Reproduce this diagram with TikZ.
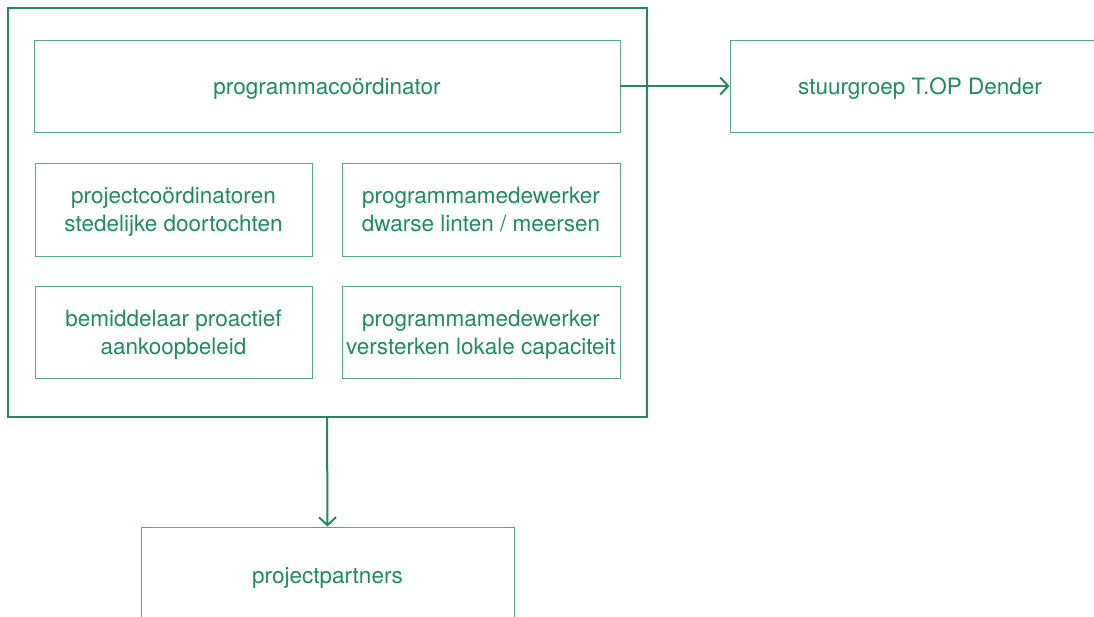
\documentclass[tikz,border=0pt]{standalone}
\usepackage{fontspec}
\setmainfont{TeX Gyre Heros}
\usetikzlibrary{arrows.meta}
\definecolor{topgreen}{HTML}{1F8A62}

\tikzset{
	unit/.style={draw=topgreen!75, line width=0.8pt, text=topgreen, align=center,
		font=\fontsize{22.5}{28}\selectfont, inner sep=0pt, text depth=0pt},
	link/.style={draw=topgreen, line width=2pt, -{Straight Barb[length=8pt,width=17pt,line width=2pt]}}
}

\begin{document}
\begin{tikzpicture}[x=1pt,y=-1pt]
	\useasboundingbox (0,0) rectangle (1094,616);
	\clip (0,0) rectangle (1094,616);
	\node[draw=topgreen, line width=2pt, minimum width=639pt, minimum height=409pt] (team) at (327,212.5) {};
	\node[unit, minimum width=586pt, minimum height=92pt] (coord) at (327,86) {programmacoördinator};
	\node[unit, minimum width=277pt, minimum height=93pt] (doortocht) at (173.5,209.5) {projectcoördinatoren\\stedelijke doortochten};
	\node[unit, minimum width=278pt, minimum height=93pt] (linten) at (481,209.5) {programmamedewerker\\dwarse linten / meersen};
	\node[unit, minimum width=277pt, minimum height=92pt] (aankoop) at (173.5,332) {bemiddelaar proactief\\aankoopbeleid};
	\node[unit, minimum width=278pt, minimum height=92pt] (capaciteit) at (481,332) {programmamedewerker\\versterken lokale capaciteit};
	\node[unit, minimum width=380pt, minimum height=92pt] (stuurgroep) at (920,86) {stuurgroep T.OP Dender};
	\node[unit, minimum width=373pt, minimum height=98pt] (partners) at (327.5,576) {projectpartners};
	\draw[link] (coord.east) -- (stuurgroep.west);
	\draw[link] (team.south) -- (partners.north);
\end{tikzpicture}
\end{document}
